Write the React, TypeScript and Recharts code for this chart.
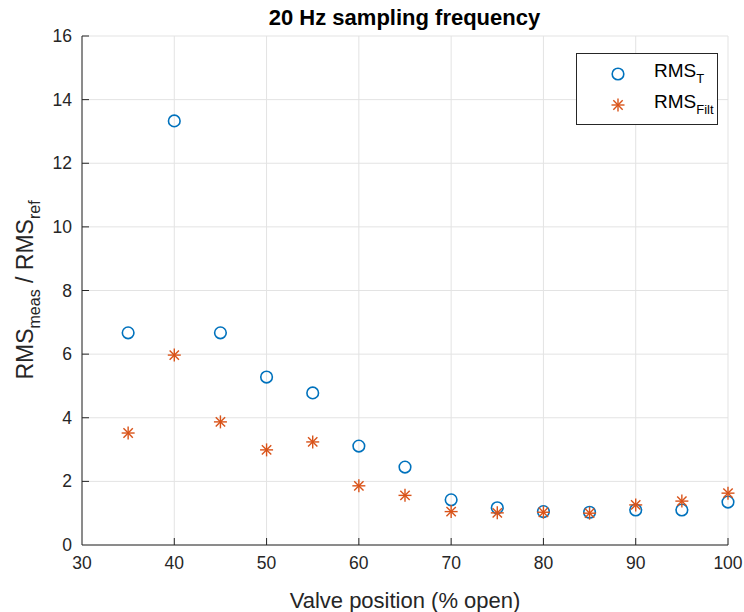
import React from 'react';
import { ScatterChart, Scatter, XAxis, YAxis, CartesianGrid, Legend } from 'recharts';

const valvePositions = [35, 40, 45, 50, 55, 60, 65, 70, 75, 80, 85, 90, 95, 100];
const rmsT = [6.67, 13.33, 6.67, 5.28, 4.78, 3.11, 2.45, 1.42, 1.17, 1.05, 1.03, 1.1, 1.1, 1.35];
const rmsFilt = [3.52, 5.97, 3.87, 2.99, 3.24, 1.86, 1.56, 1.05, 1.01, 1.03, 1.0, 1.26, 1.38, 1.63];
const xTicks = [30, 40, 50, 60, 70, 80, 90, 100];
const yTicks = [0, 2, 4, 6, 8, 10, 12, 14, 16];

const BLUE = '#0072BD';
const ORANGE = '#D95319';
const AXIS = '#262626';
const FONT = '"Liberation Sans", Arial, Helvetica, sans-serif';

const tData = valvePositions.map((x, i) => ({ x, y: rmsT[i] }));
const fData = valvePositions.map((x, i) => ({ x, y: rmsFilt[i] }));

const Circle = (p: any) => (
  <circle cx={p.cx} cy={p.cy} r={5.8} fill="none" stroke={BLUE} strokeWidth={1.6} />
);

const Star = (p: any) => {
  const { cx, cy } = p;
  const r = 6.5;
  const d = r * 0.72;
  return (
    <g stroke={ORANGE} strokeWidth={1.4}>
      <line x1={cx - r} y1={cy} x2={cx + r} y2={cy} />
      <line x1={cx} y1={cy - r} x2={cx} y2={cy + r} />
      <line x1={cx - d} y1={cy - d} x2={cx + d} y2={cy + d} />
      <line x1={cx - d} y1={cy + d} x2={cx + d} y2={cy - d} />
    </g>
  );
};

const XTick = (p: any) => {
  const top = p.y - 8;
  return (
    <g>
      {p.payload.value !== 30 && <line x1={p.x} x2={p.x} y1={top} y2={top - 7} stroke={AXIS} strokeWidth={1} />}
      <text x={p.x} y={p.y + 16} textAnchor="middle" fontSize={17.5} fill={AXIS} fontFamily={FONT}>
        {p.payload.value}
      </text>
    </g>
  );
};

const YTick = (p: any) => {
  const axisX = p.x + 10;
  return (
    <g>
      {p.payload.value !== 0 && <line x1={axisX} x2={axisX + 7} y1={p.y} y2={p.y} stroke={AXIS} strokeWidth={1} />}
      <text x={p.x} y={p.y + 6} textAnchor="end" fontSize={17.5} fill={AXIS} fontFamily={FONT}>
        {p.payload.value}
      </text>
    </g>
  );
};

const LegendBox = () => (
  <div
    style={{
      width: 140, height: 70, border: `1px solid ${AXIS}`, background: '#fff',
      fontFamily: FONT, fontSize: 19, color: '#000', position: 'relative', lineHeight: '22px',
    }}
  >
    <svg width={140} height={70} style={{ position: 'absolute', left: 0, top: 0 }}>
      <Circle cx={41} cy={20} />
      <Star cx={41} cy={51} />
    </svg>
    <div style={{ position: 'absolute', left: 77, top: 6 }}>
      RMS<sub style={{ fontSize: 13, verticalAlign: -6 }}>T</sub>
    </div>
    <div style={{ position: 'absolute', left: 77, top: 37 }}>
      RMS<sub style={{ fontSize: 13, verticalAlign: -6 }}>Filt</sub>
    </div>
  </div>
);

export default function App() {
  return (
    <div style={{ position: 'absolute', left: 0, top: 0, width: 744, height: 612, background: '#fff' }}>
      <div
        style={{
          position: 'absolute', left: 82, width: 645, top: 5, textAlign: 'center',
          fontFamily: FONT, fontWeight: 'bold', fontSize: 22, color: '#000', lineHeight: '26px',
        }}
      >
        20 Hz sampling frequency
      </div>
      <ScatterChart width={744} height={612} margin={{ top: 36, right: 16, bottom: 0, left: 0 }}>
        <CartesianGrid stroke="#e3e3e3" strokeWidth={1} />
        <XAxis
          type="number"
          dataKey="x"
          domain={[30, 100]}
          ticks={xTicks}
          height={67}
          stroke={AXIS}
          tickLine={false}
          tickSize={0}
          tickMargin={8}
          tick={<XTick />}
          label={{
            value: 'Valve position (% open)', position: 'insideBottom', offset: 4,
            style: { fontSize: 22, fill: AXIS, fontFamily: FONT },
          }}
        />
        <YAxis
          type="number"
          dataKey="y"
          domain={[0, 16]}
          ticks={yTicks}
          width={82}
          stroke={AXIS}
          tickLine={false}
          tickSize={0}
          tickMargin={10}
          tick={<YTick />}
          label={{
            content: () => (
              <text
                transform="translate(33, 290) rotate(-90)"
                textAnchor="middle"
                fontSize={23}
                fill={AXIS}
                fontFamily={FONT}
              >
                RMS<tspan fontSize={16} dy={7}>meas</tspan>
                <tspan dy={-7}> / RMS</tspan>
                <tspan fontSize={16} dy={7}>ref</tspan>
              </text>
            ),
          }}
        />
        <Legend
          layout="vertical"
          align="center"
          verticalAlign="middle"
          content={<LegendBox />}
          wrapperStyle={{ left: 576, top: 53, width: 142, height: 72 }}
        />
        <Scatter name="RMS_T" data={tData} shape={<Circle />} isAnimationActive={false} />
        <Scatter name="RMS_Filt" data={fData} shape={<Star />} isAnimationActive={false} />
      </ScatterChart>
    </div>
  );
}
